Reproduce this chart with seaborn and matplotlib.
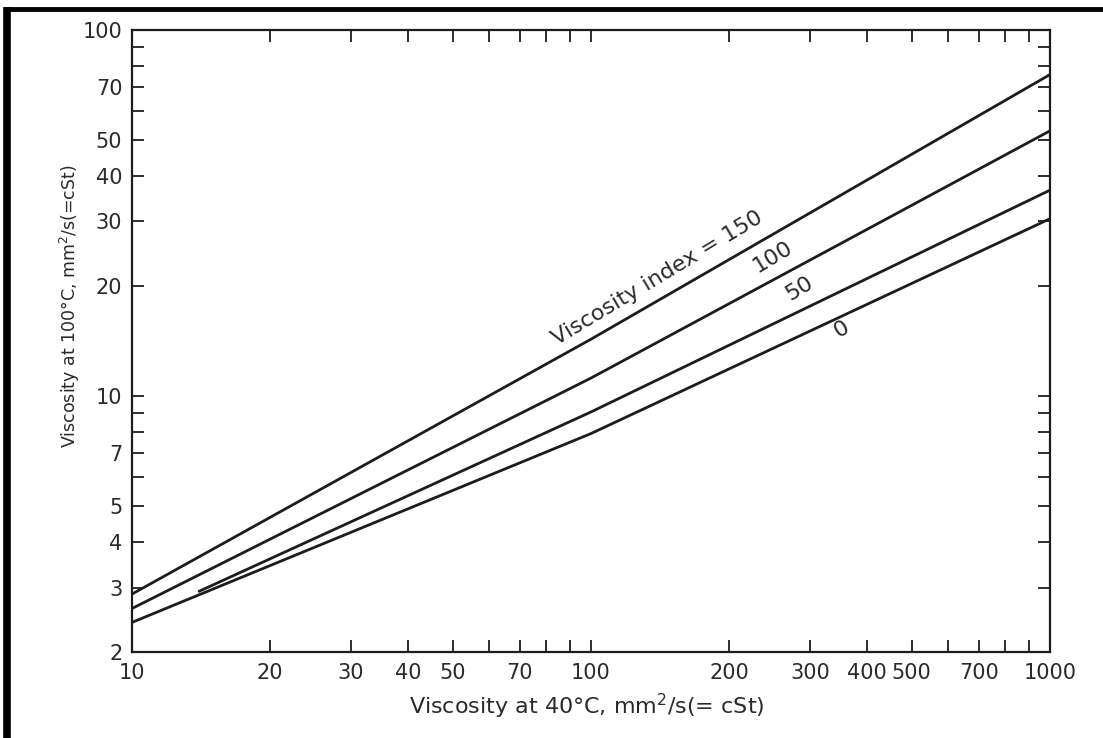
import matplotlib
matplotlib.use("Agg")
import matplotlib.pyplot as plt
from matplotlib.lines import Line2D
from matplotlib.ticker import FixedLocator, NullFormatter, FixedFormatter
import numpy as np
import pandas as pd
import seaborn as sns

# ---- data ----
vi_labels = ["150", "100", "50", "0"]
x_vi150 = [10, 100, 1000]
y_vi150 = [2.88, 14.3, 75.5]
x_vi100 = [10, 100, 1000]
y_vi100 = [2.63, 11.2, 53]
x_vi50 = [14, 100, 1000]
y_vi50 = [2.93, 9.05, 36.5]
x_vi0 = [10, 100, 1000]
y_vi0 = [2.41, 7.9, 30.5]

x_ticklabels = [10, 20, 30, 40, 50, 70, 100, 200, 300, 400, 500, 700, 1000]
y_ticklabels = [2, 3, 4, 5, 7, 10, 20, 30, 40, 50, 70, 100]

xlabel = "Viscosity at 40°C, mm$^2$/s(= cSt)"
ylabel = "Viscosity at 100°C, mm$^2$/s(=cSt)"

series = [(vi_labels[0], x_vi150, y_vi150),
          (vi_labels[1], x_vi100, y_vi100),
          (vi_labels[2], x_vi50, y_vi50),
          (vi_labels[3], x_vi0, y_vi0)]
df = pd.concat([pd.DataFrame({"vi": lab, "v40": xs, "v100": ys}) for lab, xs, ys in series],
               ignore_index=True)

sns.set_style("white")
plt.rcParams["font.family"] = ["DejaVu Sans"]

fig = plt.figure(figsize=(11.03, 7.38), dpi=100)
ax = fig.add_axes([0.1197, 0.1165, 0.832, 0.8428])

ink = "#1c1c1c"
txt = "#2a2a2a"
for lab in vi_labels:
    sub = df[df["vi"] == lab]
    sns.lineplot(data=sub, x="v40", y="v100", ax=ax, color=ink, lw=2.0,
                 estimator=None, sort=True, legend=False)

ax.set_xscale("log")
ax.set_yscale("log")
ax.set_xlim(10, 1000)
ax.set_ylim(2, 100)

# ticks
xminor = [v for d in (10, 100) for v in np.arange(2, 10) * d if v not in x_ticklabels]
yminor = [v for d in (1, 10) for v in np.arange(2, 10) * d if v not in y_ticklabels and v <= 100]
ax.xaxis.set_major_locator(FixedLocator(x_ticklabels))
ax.xaxis.set_major_formatter(FixedFormatter([str(v) for v in x_ticklabels]))
ax.xaxis.set_minor_locator(FixedLocator(xminor))
ax.xaxis.set_minor_formatter(NullFormatter())
ax.yaxis.set_major_locator(FixedLocator(y_ticklabels))
ax.yaxis.set_major_formatter(FixedFormatter([str(v) for v in y_ticklabels]))
ax.yaxis.set_minor_locator(FixedLocator(yminor))
ax.yaxis.set_minor_formatter(NullFormatter())

for which in ("major", "minor"):
    ax.tick_params(axis="both", which=which, direction="in", length=8.5, width=1.3,
                   color=ink, top=True, right=True, bottom=True, left=True)
ax.tick_params(axis="x", which="major", labelsize=15, labelcolor=txt, pad=8)
ax.tick_params(axis="y", which="major", labelsize=15, labelcolor=txt, pad=7)

for s in ax.spines.values():
    s.set_color(ink)
    s.set_linewidth(1.6)

ax.set_xlabel(xlabel, fontsize=16, color=txt)
ax.xaxis.set_label_coords(0.495, -0.064)
ax.set_ylabel(ylabel, fontsize=12.5, color=txt)
ax.yaxis.set_label_coords(-0.055, 0.556)

# curve labels
lab_kw = dict(rotation=31, fontsize=16, color=txt, ha="center", va="center",
              rotation_mode="anchor")
ax.text(140, 21.0, "Viscosity index = " + vi_labels[0], **lab_kw)
ax.text(249, 24.0, vi_labels[1], **lab_kw)
ax.text(285, 19.7, vi_labels[2], **lab_kw)
ax.text(352, 15.2, vi_labels[3], **lab_kw)

# black scan frame (top and left edges)
W, H = 1103, 738
fig.add_artist(Line2D([5 / W, 1.0], [1 - 9 / H, 1 - 9 / H], transform=fig.transFigure,
                      color="black", lw=3.5, solid_capstyle="butt"))
fig.add_artist(Line2D([7 / W, 7 / W], [1 - 7 / H, 0.0], transform=fig.transFigure,
                      color="black", lw=5.5, solid_capstyle="butt"))

fig.savefig("out.png", dpi=100)
